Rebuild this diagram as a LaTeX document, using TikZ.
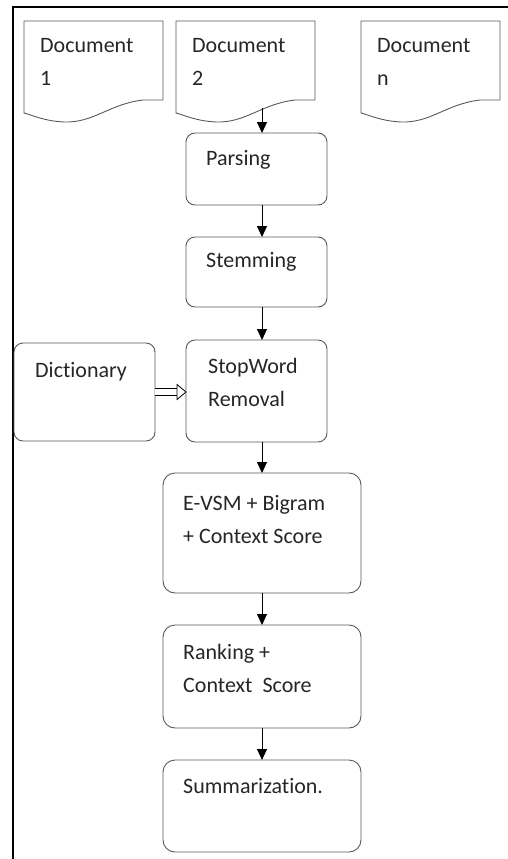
\documentclass[tikz,border=0pt]{standalone}
\usepackage{fontspec}
\setmainfont{Carlito}[Ligatures=NoCommon]
\usetikzlibrary{arrows.meta}
\tikzset{
    flow-box/.style = {draw=black!65, line width=0.9pt, rounded corners=9pt, inner sep=0pt, outer sep=0pt, anchor=north west},
    doc-area/.style = {inner sep=0pt, outer sep=0pt, anchor=north west, minimum width=139pt, minimum height=101pt},
    box-text/.style = {anchor=base west, inner sep=0pt, align=left, text=black!85, font=\fontsize{22}{33}\selectfont},
    flow-arrow/.style = {draw, line width=0.9pt, -{Triangle[length=11pt,width=10pt]}},
}

\begin{document}
\begin{tikzpicture}[x=1pt,y=-1pt]
\useasboundingbox (0,0) rectangle (508,859);
% frame
\draw[line width=1.6pt] (13,859) -- (13,7) -- (508,7);

% source documents
\foreach \name/\x/\num in {doc1/24/1, doc2/176/2, docn/361/n} {
    \node[doc-area] (\name) at (\x,21) {};
    \draw[draw=black!65, line width=0.9pt] (\x,21) -- (\x+139,21) -- (\x+139,100) -- (\x+119,100)
        .. controls (\x+85,104) and (\x+70,123) .. (\x+40,122)
        .. controls (\x+20,121) and (\x+8,115) .. (\x,113) -- cycle;
    % base anchor sits on the last line
    \node[box-text] (\name-text) at ([shift={(16,64)}]\name.north west) {Document\\\num};
}
\coordinate (col) at (262,0);
\coordinate (doc2-out) at (262,108);

% steps
\node[flow-box, minimum width=141pt, minimum height=72pt] (parse) at (186,133) {};
\node[box-text] (parse-text) at ([shift={(20,32)}]parse.north west) {Parsing};
\node[flow-box, minimum width=141pt, minimum height=70pt] (stem) at (186,237) {};
\node[box-text] (stem-text) at ([shift={(20,30)}]stem.north west) {Stemming};
\node[flow-box, minimum width=141pt, minimum height=102pt] (stop) at (186,340) {};
\node[box-text] (stop-text) at ([shift={(22,66)}]stop.north west) {StopWord\\Removal};
\node[flow-box, minimum width=141pt, minimum height=98pt] (dict) at (14,343) {};
\node[box-text] (dict-text) at ([shift={(21,34)}]dict.north west) {Dictionary};
\node[flow-box, minimum width=198pt, minimum height=120pt, rounded corners=12pt] (evsm) at (163,473) {};
\node[box-text] (evsm-text) at ([shift={(20,70)}]evsm.north west) {E-VSM + Bigram\\+ Context Score};
\node[flow-box, minimum width=198pt, minimum height=103pt, rounded corners=12pt] (rank) at (163,625) {};
\node[box-text] (rank-text) at ([shift={(20,67)}]rank.north west) {Ranking +\\Context~ Score};
\node[flow-box, minimum width=198pt, minimum height=92pt, rounded corners=12pt] (summ) at (163,760) {};
\node[box-text] (summ-text) at ([shift={(20,33)}]summ.north west) {Summarization.};

% arrows
\draw[flow-arrow] (doc2-out) -- (parse.north -| col);
\draw[flow-arrow] (parse.south -| col) -- (stem.north -| col);
\draw[flow-arrow] (stem.south -| col) -- (stop.north -| col);
\draw[flow-arrow] (stop.south -| col) -- (evsm.north -| col);
\draw[flow-arrow] (evsm.south -| col) -- (rank.north -| col);
\draw[flow-arrow] (rank.south -| col) -- (summ.north -| col);
\draw[double=white, double distance=6pt, line width=0.8pt, shorten >=9pt] (dict.east) -- (dict.east -| stop.west);
\draw[line width=0.8pt, fill=white] ([shift={(-9,-7.5)}]dict.east -| stop.west) -- (dict.east -| stop.west) -- ([shift={(-9,7.5)}]dict.east -| stop.west) -- cycle;
\end{tikzpicture}
\end{document}
